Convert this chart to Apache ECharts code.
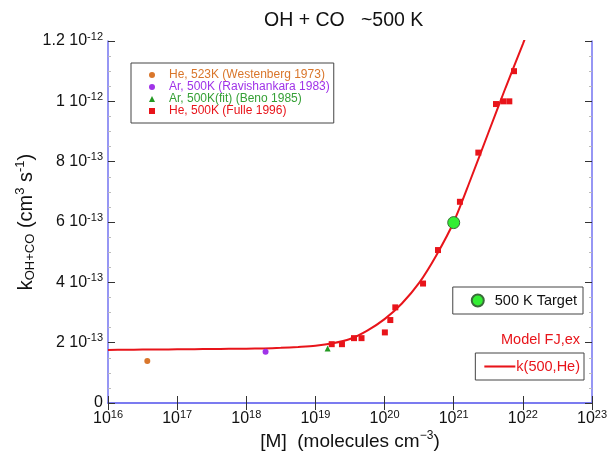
<!DOCTYPE html>
<html>
<head>
<meta charset="utf-8">
<script src="https://cdn.jsdelivr.net/npm/echarts@6/dist/echarts.min.js"></script>
<style>
  html, body { margin: 0; padding: 0; background: #fff; }
  #chart { width: 612px; height: 462px; }
</style>
</head>
<body>
<div id="chart"></div>
<script>
// k values are in units of 1e-13 cm^3 s^-1, [M] in molecules cm^-3
const westenbergM = [3.7e16];
const westenbergK = [1.39];
const ravishankaraM = [1.9e18];
const ravishankaraK = [1.70];
const benoM = [1.5e19];
const benoK = [1.81];
const fulleM = [1.72e19, 2.42e19, 3.61e19, 4.64e19, 1.01e20, 1.21e20, 1.43e20, 3.6e20,
  5.93e20, 1.23e21, 2.27e21, 4.09e21, 5.22e21, 6.37e21, 7.45e21];
const fulleK = [1.95, 1.95, 2.15, 2.15, 2.34, 2.75, 3.17, 3.96,
  5.07, 6.67, 8.30, 9.91, 10.0, 10.0, 11.0];
const targetM = [1e21];
const targetK = [5.98];
// model curve k(500,He)
const modelM = [1e16, 1.78e16, 3.16e16, 5.62e16, 1e17, 1.78e17, 3.16e17, 5.62e17, 1e18,
  1.78e18, 3.16e18, 5.62e18, 1e19, 1.78e19, 3.16e19, 5.62e19, 1e20, 1.78e20, 3.16e20,
  5.62e20, 1e21, 1.78e21, 3.16e21, 5.62e21, 1e22, 1.26e22];
const modelK = [1.76, 1.765, 1.77, 1.775, 1.78, 1.785, 1.79, 1.795, 1.80,
  1.81, 1.83, 1.86, 1.90, 1.98, 2.12, 2.40, 2.78, 3.30, 3.98,
  4.90, 6.0, 7.45, 8.95, 10.45, 11.9, 12.5];
const yTicks = [0, 2, 4, 6, 8, 10, 12];

const pairs = (xs, ys) => xs.map((x, i) => [x, ys[i]]);

const AXIS_BLUE = '#7373f0';
const TXT = '#111';
const RED = '#e8141a';
const SUP = { fontSize: 11, color: TXT, padding: [0, 0, 9, 0] };

const chart = echarts.init(document.getElementById('chart'));

const yLabel = v => {
  if (v === 0) return '{b|0}';
  if (v >= 10) return '{b|' + (v / 10) + ' 10}{s|-12}';
  return '{b|' + v + ' 10}{s|-13}';
};
const xLabel = v => '{b|10}{s|' + Math.round(Math.log10(v)) + '}';

const option = {
  animation: false,
  backgroundColor: '#fff',
  title: {
    text: 'OH + CO   ~500 K',
    left: 259, top: 6,
    textStyle: { fontSize: 19.5, fontWeight: 'normal', color: TXT, fontFamily: 'Liberation Sans' }
  },
  textStyle: { fontFamily: 'Liberation Sans' },
  grid: { left: 108, right: 20, top: 41, bottom: 59 },
  xAxis: [{
    type: 'log', logBase: 10, min: 1e16, max: 1e23,
    name: '{b|[M]  (molecules cm}{s|−3}{b|)}',
    nameLocation: 'middle', nameGap: 27, nameMoveOverlap: false,
    nameTextStyle: { rich: { b: { fontSize: 19, color: TXT }, s: { fontSize: 12, color: TXT, padding: [0, 0, 11, 0] } } },
    axisLine: { lineStyle: { color: AXIS_BLUE, width: 1.5 } },
    axisTick: { inside: true, length: 7, lineStyle: { color: '#333' } },
    minorTick: { show: false },
    splitLine: { show: false },
    axisLabel: { margin: 6, formatter: xLabel, rich: { b: { fontSize: 16, color: TXT }, s: SUP } }
  }, {
    type: 'log', logBase: 10, min: 1e16, max: 1e23, position: 'top',
    axisLine: { lineStyle: { color: AXIS_BLUE, width: 1.5 } },
    axisTick: { inside: true, length: 7, lineStyle: { color: '#333' } },
    axisLabel: { show: false },
    splitLine: { show: false }
  }],
  yAxis: [{
    type: 'value', min: 0, max: 12, interval: 2,
    name: '{b|k}{sub|OH+CO}{b| (cm}{s|3}{b| s}{s|-1}{b|)}',
    nameLocation: 'middle', nameRotate: 90, nameGap: 70, nameMoveOverlap: false,
    nameTextStyle: {
      rich: {
        b: { fontSize: 20, color: TXT },
        s: { fontSize: 13, color: TXT, padding: [0, 0, 11, 0] },
        sub: { fontSize: 13, color: TXT, padding: [9, 0, 0, 0] }
      }
    },
    axisLine: { show: true, lineStyle: { color: AXIS_BLUE, width: 1.5 } },
    axisTick: { show: true, inside: true, length: 7, lineStyle: { color: '#333' } },
    minorTick: { show: true, splitNumber: 4, length: 3, lineStyle: { color: '#bbb' } },
    splitLine: { show: false },
    axisLabel: {
      margin: 5, formatter: yLabel,
      customValues: yTicks,
      rich: { b: { fontSize: 16, color: TXT }, s: SUP }
    }
  }, {
    type: 'value', min: 0, max: 12, interval: 2, position: 'right',
    axisLine: { show: true, lineStyle: { color: AXIS_BLUE, width: 1.5 } },
    axisTick: { show: true, inside: true, length: 7, lineStyle: { color: '#333' } },
    minorTick: { show: true, splitNumber: 4, length: 3, lineStyle: { color: '#bbb' } },
    axisLabel: { show: false },
    splitLine: { show: false }
  }],
  legend: [{
    left: 131, top: 63, orient: 'vertical',
    padding: [6, 4, 6, 18],
    itemWidth: 6, itemHeight: 6, itemGap: 0,
    borderColor: '#444', borderWidth: 1, backgroundColor: '#fff',
    selectedMode: false,
    textStyle: { fontSize: 12, lineHeight: 12, padding: [0, 0, 0, 9] },
    data: [
      { name: 'He, 523K (Westenberg 1973)', icon: 'circle', textStyle: { color: '#d9762b' } },
      { name: 'Ar, 500K (Ravishankara 1983)', icon: 'circle', textStyle: { color: '#a033e8' } },
      { name: 'Ar, 500K(fit) (Beno 1985)', icon: 'triangle', textStyle: { color: '#35a035' } },
      { name: 'He, 500K (Fulle 1996)', icon: 'rect', textStyle: { color: RED } }
    ]
  }, {
    right: 29, top: 287, orient: 'vertical',
    padding: [6, 6, 6, 18],
    itemWidth: 12, itemHeight: 12,
    borderColor: '#444', borderWidth: 1, backgroundColor: '#fff',
    selectedMode: false,
    textStyle: { fontSize: 14.5, color: TXT, padding: [0, 0, 0, 6] },
    data: [{ name: '500 K Target', icon: 'circle' }]
  }, {
    right: 28, top: 353, orient: 'vertical',
    padding: [6, 4, 6, 9],
    itemWidth: 31, itemHeight: 12,
    borderColor: '#444', borderWidth: 1, backgroundColor: '#fff',
    selectedMode: false,
    textStyle: { fontSize: 14.5, color: RED, padding: [0, 0, 0, -4] },
    data: [{ name: 'k(500,He)', icon: 'path://M0,5 L30,5 L30,7 L0,7 Z' }]
  }],
  graphic: [{
    type: 'text', right: 32, top: 332,
    style: { text: 'Model FJ,ex', fontSize: 14.5, fill: RED, fontFamily: 'Liberation Sans' }
  }],
  series: [{
    name: 'k(500,He)', type: 'line', data: pairs(modelM, modelK),
    smooth: 0.3, showSymbol: false, clip: true,
    lineStyle: { color: RED, width: 2 }, itemStyle: { color: RED }, z: 2
  }, {
    name: 'He, 523K (Westenberg 1973)', type: 'scatter', data: pairs(westenbergM, westenbergK),
    symbol: 'circle', symbolSize: 6, itemStyle: { color: '#d9762b', opacity: 1 }, z: 3
  }, {
    name: 'Ar, 500K (Ravishankara 1983)', type: 'scatter', data: pairs(ravishankaraM, ravishankaraK),
    symbol: 'circle', symbolSize: 6, itemStyle: { color: '#a033e8', opacity: 1 }, z: 3
  }, {
    name: 'Ar, 500K(fit) (Beno 1985)', type: 'scatter', data: pairs(benoM, benoK),
    symbol: 'triangle', symbolSize: 6, itemStyle: { color: '#229922', opacity: 1 }, z: 3
  }, {
    name: 'He, 500K (Fulle 1996)', type: 'scatter', data: pairs(fulleM, fulleK),
    symbol: 'rect', symbolSize: 6, itemStyle: { color: RED, opacity: 1 }, z: 3
  }, {
    name: '500 K Target', type: 'scatter', data: pairs(targetM, targetK),
    symbol: 'circle', symbolSize: 12,
    itemStyle: { color: '#33ee33', borderColor: '#3a6a3a', borderWidth: 1, opacity: 1 }, z: 4
  }]
};

chart.setOption(option);
</script>
</body>
</html>
